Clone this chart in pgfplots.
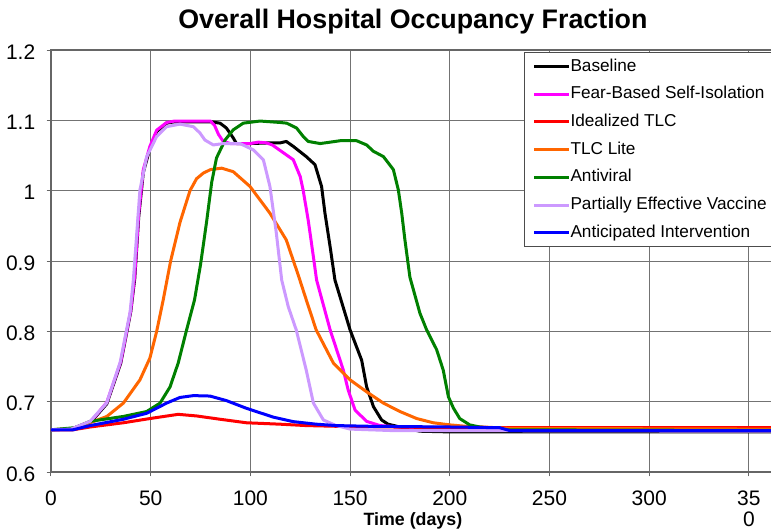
\documentclass[border=0pt]{standalone}
\usepackage{pgfplots}
\pgfplotsset{compat=1.18}
\usepackage{fontspec}
\setmainfont{Liberation Sans}
\definecolor{cMag}{HTML}{FF00FF}
\definecolor{cRed}{HTML}{FF0000}
\definecolor{cOra}{HTML}{FF6600}
\definecolor{cGrn}{HTML}{008000}
\definecolor{cLav}{HTML}{CC99FF}
\definecolor{cBlu}{HTML}{0000FF}
\begin{document}
\begin{tikzpicture}
\begin{axis}[
  scale only axis, width=361.9pt, height=211pt,
  xmin=0, xmax=363, ymin=0.6, ymax=1.2,
  xtick={0,50,100,150,200,250,300,350},
  xticklabels={0,50,100,150,200,250,300,{35\\[-1.5pt]0}},
  ytick={0.6,0.7,0.8,0.9,1.0,1.1,1.2},
  yticklabels={0.6,0.7,0.8,0.9,1,1.1,1.2},
  /pgf/number format/assume math mode=true,
  tick pos=left, tick align=outside, major tick length=2.2pt,
  tick style={black!60, line width=0.5pt},
  grid=major, major grid style={black!55, line width=0.45pt},
  axis line style={black!60, line width=0.8pt},
  ticklabel style={font=\fontsize{10.5}{12}\selectfont},
  xticklabel style={anchor=north, inner sep=0pt, yshift=-7pt, align=center},
  yticklabel style={anchor=east, inner sep=0pt, xshift=-5.5pt, yshift=-1pt},
  title={Overall Hospital Occupancy Fraction},
  every axis title shift=0pt,
  title style={font=\bfseries\fontsize{13.4}{16}\selectfont, at={(0.5,1)}, anchor=base, yshift=10.85pt, inner sep=0pt},
  xlabel={Time (days)},
  xlabel style={font=\bfseries\fontsize{8.9}{10}\selectfont, at={(axis description cs:0.5,0)}, anchor=base, yshift=-26.5pt, inner sep=0pt},
  legend cell align=left,
  legend style={at={(0.6535,0.9953)}, anchor=north west, draw=black!70, line width=0.5pt,
    font=\fontsize{8.6}{10}\selectfont, inner xsep=4pt, inner ysep=3pt, row sep=5.86pt,
    nodes={inner sep=0pt, text height=6.3pt, text depth=1.7pt}},
  legend image code/.code={\draw[#1] (0pt,0pt) -- (17.5pt,0pt);},
  every axis plot/.append style={line width=1.5pt, line join=round},
]
% Baseline
\addplot[black] coordinates {
(0,0.66) (10,0.661) (20,0.671) (28,0.697) (35,0.755) (40,0.828) (42,0.875) (44,0.963)
(46.3,1.026) (49.6,1.060) (53,1.084) (58,1.096) (62,1.098) (80,1.098) (84.8,1.096)
(88,1.089) (91.4,1.075) (93,1.067) (100,1.067) (110,1.068) (115,1.068) (118,1.070)
(121.5,1.063) (128,1.0485) (132.4,1.037) (135.7,1.006) (137.4,0.968) (140,0.920)
(142.4,0.873) (150,0.802) (155.8,0.759) (158.3,0.721) (161.7,0.693) (165.8,0.674)
(169,0.668) (175,0.664) (185,0.658) (200,0.657) (363,0.657)};
\addlegendentry{Baseline}
% Fear-Based Self-Isolation
\addplot[cMag] coordinates {
(0,0.66) (10,0.661) (20,0.672) (28,0.699) (35,0.757) (40,0.830) (42,0.880) (44,0.968)
(46.3,1.030) (49.6,1.063) (53,1.086) (58,1.097) (62,1.099) (80,1.099) (82,1.093)
(84,1.080) (86.4,1.070) (90,1.067) (100,1.067) (104,1.069) (108,1.068) (111,1.065)
(116,1.055) (121.5,1.044) (125,1.020) (126.5,1.000) (129,0.958) (131.6,0.906)
(133.2,0.873) (140,0.802) (146.6,0.745) (149,0.717) (152.5,0.688) (158.3,0.672)
(165,0.666) (175,0.664) (200,0.662) (250,0.661) (363,0.661)};
\addlegendentry{Fear-Based Self-Isolation}
% Idealized TLC
\addplot[cRed] coordinates {
(0,0.66) (11,0.660) (19.6,0.664) (36.3,0.670) (49.6,0.676) (63.8,0.682) (73,0.6797)
(84.8,0.675) (98,0.670) (114.8,0.668) (128,0.666) (143,0.665) (200,0.663) (363,0.663)};
\addlegendentry{Idealized TLC}
% TLC Lite
\addplot[cOra] coordinates {
(0,0.66) (12,0.662) (19.6,0.670) (28,0.679) (36.3,0.698) (44.6,0.731) (49.6,0.762)
(53,0.800) (56.3,0.845) (60,0.900) (64.7,0.955) (69.7,1.000) (73,1.017) (76.4,1.025) (80,1.030)
(85.6,1.032) (91.4,1.027) (99.8,1.006) (109.8,0.968) (118,0.930) (124,0.880)
(128,0.845) (133,0.802) (141.6,0.755) (150,0.731) (158.3,0.714) (166.7,0.698)
(175,0.686) (183.4,0.676) (191.7,0.670) (200,0.667) (208,0.665) (216.7,0.664)
(230,0.662) (363,0.661)};
\addlegendentry{TLC Lite}
% Antiviral
\addplot[cGrn] coordinates {
(0,0.66) (12,0.663) (19.6,0.672) (36.3,0.679) (48,0.686) (54.7,0.698) (59.7,0.721)
(63.8,0.755) (68,0.802) (72,0.845) (75,0.895) (78,0.955) (80.6,1.012) (83,1.0465)
(87.3,1.072) (91.4,1.0865) (96.4,1.096) (104.8,1.099) (114.8,1.097) (118.2,1.096)
(123.2,1.089) (126.5,1.077) (129,1.070) (135,1.067) (145,1.071) (153.3,1.071)
(158.3,1.065) (161.7,1.056) (166.7,1.0485) (171.7,1.030) (174.2,1.001) (175.9,0.968)
(177.5,0.930) (180,0.877) (185,0.826) (188.4,0.802) (193.4,0.774) (196.7,0.745)
(199.3,0.707) (201.8,0.691) (205,0.676) (210,0.667) (215,0.664) (225,0.660) (363,0.659)};
\addlegendentry{Antiviral}
% Partially Effective Vaccine
\addplot[cLav] coordinates {
(0,0.66) (10,0.661) (19.6,0.672) (27.9,0.698) (34.6,0.755) (39.6,0.826) (41.3,0.873)
(44.6,1.001) (48,1.0485) (53,1.077) (58,1.091) (64.7,1.0946) (71.4,1.091) (74.7,1.082)
(77.2,1.072) (81.4,1.065) (86.4,1.067) (94.8,1.067) (101.5,1.058) (106.5,1.044)
(109.8,1.006) (113,0.940) (115.7,0.873) (119,0.835) (123,0.802) (128,0.745)
(131.6,0.698) (136.6,0.674) (143,0.666) (150,0.661) (170,0.659) (363,0.658)};
\addlegendentry{Partially Effective Vaccine}
% Anticipated Intervention
\addplot[cBlu] coordinates {
(0,0.66) (11,0.660) (19.6,0.666) (36.3,0.675) (48,0.6835) (58,0.698) (64.7,0.706)
(71.4,0.7086) (79.7,0.708) (88,0.7015) (98,0.6906) (111.5,0.678) (121.5,0.6716)
(133,0.668) (143,0.666) (160,0.665) (200,0.664) (225,0.663) (230,0.659) (363,0.659)};
\addlegendentry{Anticipated Intervention}
\end{axis}
\pgfresetboundingbox
\path (-25.5pt,-29.5pt) rectangle (360pt,236pt);
\end{tikzpicture}
\end{document}
